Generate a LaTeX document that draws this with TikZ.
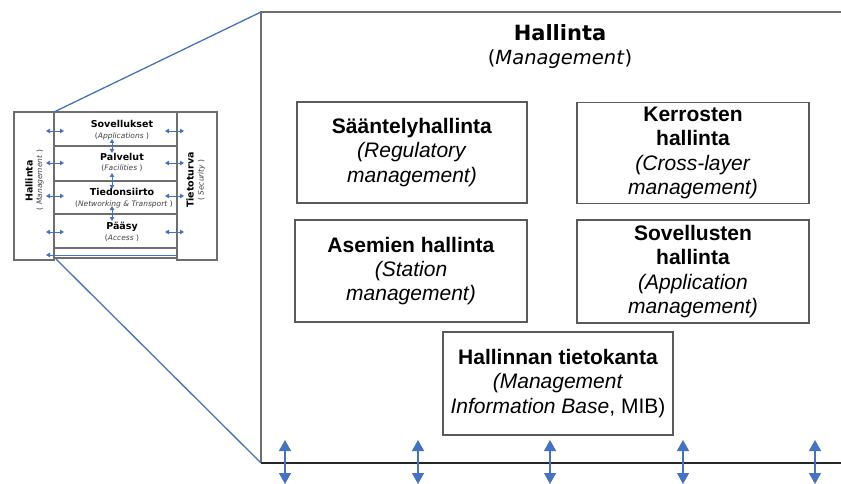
\documentclass[tikz,border=0pt]{standalone}
\usepackage{fontspec}
\setmainfont{Liberation Sans}
\newfontfamily\djv{DejaVu Sans}
\usetikzlibrary{arrows.meta}
\definecolor{linkblue}{HTML}{4472C4}
\definecolor{boxgray}{HTML}{5A5A5A}
\definecolor{framegray}{HTML}{6E6E6E}

\begin{document}
\begin{tikzpicture}[x=1pt,y=-1pt,
  mgmtbox/.style={draw=boxgray,line width=1.6pt,inner sep=0pt,align=center,
    font=\fontsize{21}{24.2}\selectfont},
  layerbox/.style={draw=framegray,line width=1.1pt,inner sep=0pt,minimum width=123pt},
  sidebox/.style={draw=framegray,line width=1.1pt,inner sep=0pt,minimum width=40pt,minimum height=148pt},
  layertitle/.style={inner sep=0pt,font=\djv\bfseries\fontsize{9.5}{10}\selectfont},
  layersub/.style={inner sep=0pt,text=black!75,font=\djv\fontsize{7.5}{8}\selectfont},
  minilink/.style={linkblue,line width=0.9pt,{Triangle[width=4.5pt,length=4pt]}-{Triangle[width=4.5pt,length=4pt]}},
  baselink/.style={linkblue,line width=1.3pt,{Triangle[width=12pt,length=11pt]}-{Triangle[width=12pt,length=11pt]}},
  zoomline/.style={linkblue,line width=1.3pt}]

\useasboundingbox (0,0) rectangle (841,484);

% ---------- small reference stack ----------
\node[sidebox] (mgmtcol) at (34,186) {};
\node[sidebox] (seccol) at (197,186) {};
\node[layerbox,minimum height=34pt] (app) at (115.5,129) {};
\node[layerbox,minimum height=35pt] (fac) at (115.5,163.5) {};
\node[layerbox,minimum height=33pt] (net) at (115.5,197.5) {};
\node[layerbox,minimum height=34pt] (acc) at (115.5,231) {};
\node[layerbox,minimum height=10pt] (strip) at (115.5,253) {};

\node[layertitle] (appt) at (122,124) {Sovellukset};
\node[layersub] (apps) at (122,136) {(\textit{Applications} )};
\node[layertitle] (fact) at (122,157) {Palvelut};
\node[layersub] (facs) at (122,168.5) {(\textit{Facilities} )};
\node[layertitle] (nett) at (122,192) {Tiedonsiirto};
\node[layersub] (nets) at (124,204) {(\textit{Networking \& Transport} )};
\node[layertitle] (acct) at (122,227) {Pääsy};
\node[layersub] (accs) at (122,238.5) {(\textit{Access} )};

\node[layertitle,rotate=90] (mgmtt) at (29,181) {Hallinta};
\node[layersub,rotate=90] (mgmts) at (40,180) {( \textit{Management} )};
\node[layertitle,rotate=90] (sect) at (190,180) {Tietoturva};
\node[layersub,rotate=90] (secs) at (201.5,180) {( \textit{Security} )};

% arrows between the layers
\foreach \n/\ya/\yb in {1/139/153,2/173/189,3/206/221}{
  \coordinate (va\n) at (112,\ya);
  \coordinate (vb\n) at (112,\yb);
  \draw[minilink] (va\n) -- (vb\n);
}
% arrows towards the side columns
\foreach \n/\y in {1/131,2/163,3/196,4/232}{
  \coordinate (la\n) at (46,\y);
  \coordinate (lb\n) at (64,\y);
  \coordinate (ra\n) at (165,\y);
  \coordinate (rb\n) at (184,\y);
  \draw[minilink] (la\n) -- (lb\n);
  \draw[minilink] (ra\n) -- (rb\n);
}
\coordinate (bota) at (177,255);
\coordinate (botb) at (46,255);
\draw[linkblue,line width=0.9pt,-{Triangle[width=4.5pt,length=4pt]}] (bota) -- (botb);

% ---------- enlarged management frame ----------
\coordinate (ftl) at (261,12);
\coordinate (fbl) at (261,463);
\coordinate (ftr) at (841,12);
\coordinate (fbr) at (841,463);
\draw[framegray,line width=1.8pt] (ftr) -- (ftl) -- (fbl);
\draw[black!85,line width=1.6pt] (fbl) -- (fbr);

% zoom lines
\coordinate (zt) at (54,112);
\coordinate (zb) at (56,259);
\draw[zoomline] (zt) -- (ftl);
\draw[zoomline] (zb) -- (fbl);

\node[inner sep=0pt,font=\djv\bfseries\fontsize{21}{24}\selectfont] (mtitle) at (560,33) {Hallinta};
\node[inner sep=0pt,font=\djv\fontsize{19.5}{22}\selectfont] (msub) at (560,59) {(\textit{Management})};

\node[mgmtbox,minimum width=230pt,minimum height=101pt] (reg) at (412,152.5)
  {\textbf{Sääntelyhallinta}\\\textit{(Regulatory}\\\textit{management)}};
\node[mgmtbox,minimum width=232pt,minimum height=101pt] (cross) at (693,153)
  {\textbf{Kerrosten}\\\textbf{hallinta}\\\textit{(Cross-layer}\\\textit{management)}};
\node[mgmtbox,minimum width=232pt,minimum height=102pt] (station) at (411,271)
  {\textbf{Asemien hallinta}\\\textit{(Station}\\\textit{management)}};
\node[mgmtbox,minimum width=232pt,minimum height=103pt] (appm) at (693,271.5)
  {\textbf{Sovellusten}\\\textbf{hallinta}\\\textit{(Application}\\\textit{management)}};
\node[mgmtbox,minimum width=230pt,minimum height=103pt] (mib) at (558,383.5)
  {\textbf{Hallinnan tietokanta}\\\textit{(Management}\\\textit{Information Base}, MIB)};

% interfaces crossing the bottom edge
\foreach \n/\x in {1/285,2/418,3/550,4/683,5/815}{
  \coordinate (ia\n) at (\x,440);
  \coordinate (ib\n) at (\x,484);
  \draw[baselink] (ia\n) -- (ib\n);
}
\end{tikzpicture}
\end{document}
